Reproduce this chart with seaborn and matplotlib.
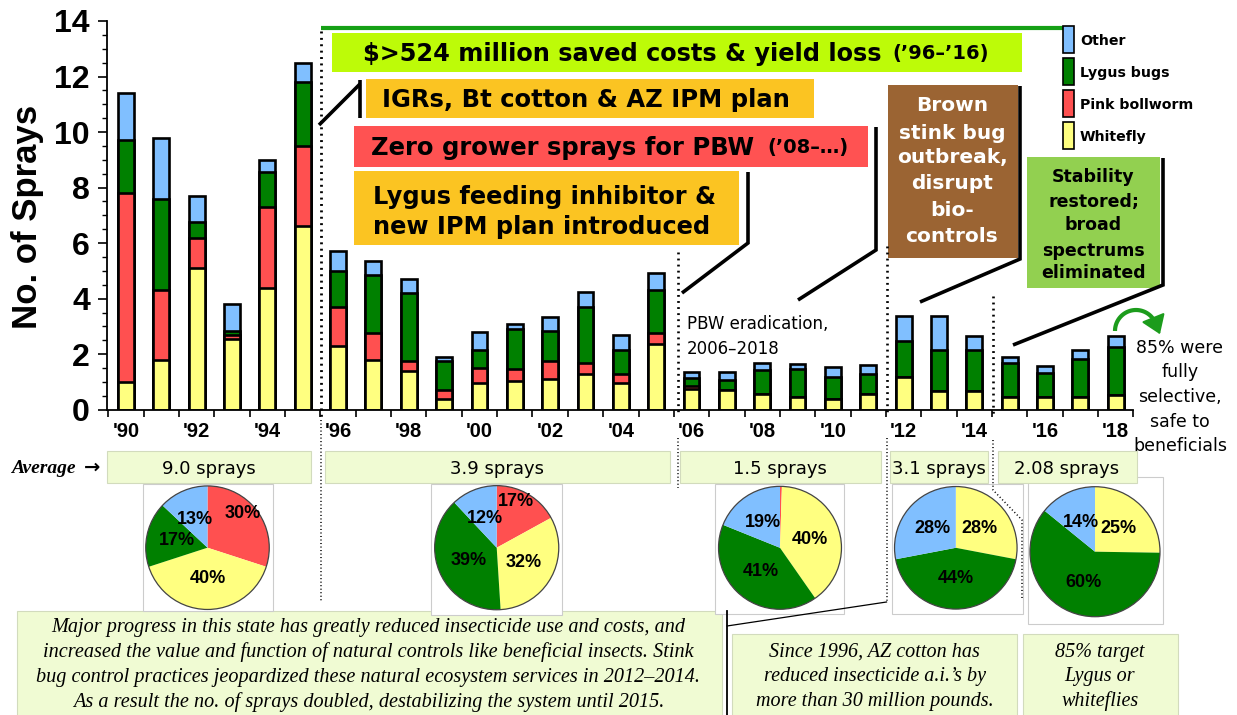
import matplotlib
matplotlib.use("Agg")
import matplotlib.pyplot as plt
from matplotlib import font_manager as fm
from matplotlib.patches import Rectangle, Circle
from matplotlib.ticker import MultipleLocator
import seaborn as sns
import numpy as np
import pandas as pd

# ---------------- data ----------------
years = list(range(1990, 2019))
whitefly = [1.0, 1.8, 5.1, 2.55, 4.4, 6.6, 2.3, 1.8, 1.4, 0.4, 0.95, 1.05, 1.1, 1.3, 0.95, 2.35,
            0.75, 0.7, 0.57, 0.47, 0.4, 0.55, 1.17, 0.66, 0.66, 0.44, 0.44, 0.47, 0.53]
pink_bollworm = [6.8, 2.5, 1.1, 0.15, 2.9, 2.9, 1.4, 0.95, 0.35, 0.3, 0.55, 0.4, 0.65, 0.4, 0.35, 0.4,
                 0.1, 0.02, 0, 0, 0, 0, 0, 0, 0, 0, 0, 0, 0]
lygus_bugs = [1.9, 3.3, 0.55, 0.15, 1.25, 2.3, 1.3, 2.1, 2.45, 1.05, 0.65, 1.45, 1.1, 2.0, 0.85, 1.55,
              0.3, 0.35, 0.85, 1.0, 0.78, 0.72, 1.3, 1.5, 1.5, 1.25, 0.87, 1.36, 1.72]
other = [1.7, 2.2, 0.95, 0.95, 0.45, 0.7, 0.7, 0.5, 0.5, 0.15, 0.65, 0.2, 0.5, 0.55, 0.55, 0.63,
         0.2, 0.3, 0.25, 0.18, 0.35, 0.35, 0.9, 1.23, 0.51, 0.22, 0.25, 0.33, 0.39]
series_names = ["Other", "Lygus bugs", "Pink bollworm", "Whitefly"]
year_labels = ["'" + str(y)[2:] if y % 2 == 0 else "" for y in years]

period_avg = ["9.0 sprays", "3.9 sprays", "1.5 sprays", "3.1 sprays", "2.08 sprays"]
pie_pink = [30, 17, 0.5, 0, 0]
pie_whitefly = [40, 32, 40, 28, 25]
pie_lygus = [17, 39, 41, 44, 60]
pie_other = [13, 12, 19, 28, 14]

C_OTHER = "#80bfff"
C_LYGUS = "#008000"
C_PINK = "#ff5050"
C_WF = "#ffff80"

# ---------------- fonts ----------------
avail = {f.name for f in fm.fontManager.ttflist}
SANS = "DejaVu Sans"
ARIAL = "Liberation Sans" if "Liberation Sans" in avail else "DejaVu Sans"
SERIF = "Liberation Serif" if "Liberation Serif" in avail else "DejaVu Serif"
NARROW = "Liberation Sans Narrow" if "Liberation Sans Narrow" in avail else None

W, H = 1237, 715
fig = plt.figure(figsize=(W / 100, H / 100), dpi=100, facecolor="white")

bg = fig.add_axes([0, 0, 1, 1], zorder=0)
bg.set_xlim(0, W); bg.set_ylim(H, 0); bg.axis("off")

ax = fig.add_axes([107.3 / W, 1 - 409.7 / H, 1026 / W, 388.7 / H], zorder=1)
ax.patch.set_alpha(0)

fg = fig.add_axes([0, 0, 1, 1], zorder=5)
fg.set_xlim(0, W); fg.set_ylim(H, 0); fg.axis("off")


def box(a, x0, y0, x1, y1, fc, ec="none", lw=0.0, z=1):
    a.add_patch(Rectangle((x0, y0), x1 - x0, y1 - y0, facecolor=fc, edgecolor=ec,
                          linewidth=lw, zorder=z))


def txt(a, x, yc, s, size, family, weight="normal", style="normal", ha="left",
        color="black", capfrac=0.36, **kw):
    em = size * 100 / 72
    a.text(x, yc + capfrac * em, s, fontsize=size, family=family, fontweight=weight,
           fontstyle=style, ha=ha, va="baseline", color=color, zorder=6, **kw)


# ---------------- stacked bars (seaborn) ----------------
df = pd.DataFrame({"year": [str(y) for y in years], "Whitefly": whitefly,
                   "Pink bollworm": pink_bollworm, "Lygus bugs": lygus_bugs, "Other": other})
df["c_wf"] = df["Whitefly"]
df["c_pb"] = df["c_wf"] + df["Pink bollworm"]
df["c_lg"] = df["c_pb"] + df["Lygus bugs"]
df["c_all"] = df["c_lg"] + df["Other"]
order = [str(y) for y in years]
for col, colr in [("c_all", C_OTHER), ("c_lg", C_LYGUS), ("c_pb", C_PINK), ("c_wf", C_WF)]:
    sns.barplot(data=df, x="year", y=col, order=order, color=colr, saturation=1, width=0.45,
                edgecolor="black", linewidth=1.9, errorbar=None, ax=ax)

ax.set_xlim(-0.53, 28.49)
ax.set_ylim(0, 14)
ax.set_xlabel(""); ax.set_ylabel("")
for s in ["top", "right"]:
    ax.spines[s].set_visible(False)
for s in ["left", "bottom"]:
    ax.spines[s].set_linewidth(1.3)
ax.set_xticks(range(len(years)))
ax.set_xticklabels(year_labels, fontsize=14.5, fontweight="bold", family=ARIAL)
ax.set_xticks(np.arange(-0.5, 28.6, 1), minor=True)
ax.tick_params(axis="x", which="major", length=0, pad=8.5)
ax.tick_params(axis="x", which="minor", length=5, width=1.2, direction="out")
ax.set_yticks(range(0, 15, 2))
ax.set_yticklabels([str(v) for v in range(0, 15, 2)], fontsize=23, fontweight="bold", family=ARIAL)
ax.yaxis.set_minor_locator(MultipleLocator(0.5))
ax.tick_params(axis="y", which="major", length=6.5, width=1.2, pad=6)
ax.tick_params(axis="y", which="minor", length=3.4, width=1.0)

fg.text(28, 217, "No. of Sprays", rotation=90, ha="center", va="center", fontsize=25,
        fontweight="bold", family=ARIAL)

# ---------------- background boxes (bottom area) ----------------
LIGHT = "#f0fbd3"
LEDGE = "#d2dbbd"
box(bg, 16.5, 610.7, 722, 716, LIGHT, LEDGE, 0.8)
box(bg, 732, 634, 1016.5, 716, LIGHT, LEDGE, 0.8)
box(bg, 1023, 634, 1177.5, 716, LIGHT, LEDGE, 0.8)
for x0, y0, x1, y1 in [(142.7, 484, 273.3, 611), (431, 484, 561.7, 614.7), (715, 484, 844, 614),
                       (892.3, 484, 1022.7, 614), (1027.7, 476.7, 1163.3, 624)]:
    box(bg, x0, y0, x1, y1, "white", "#cccccc", 0.8, z=2)
avg_boxes = [(107, 311), (325, 670), (680, 881), (889.5, 988), (998, 1137)]
avg_cx = [209, 497, 780, 939, 1066.5]
for (x0, x1), cx, lab in zip(avg_boxes, avg_cx, period_avg):
    box(bg, x0, 451, x1, 483, LIGHT, LEDGE, 0.8, z=3)
    txt(bg, cx, 467, lab, 13, SANS, ha="center")

txt(fg, 11, 466, "Average", 14, SERIF, weight="bold", style="italic")
txt(fg, 84, 466, "\u2192", 14, SANS, weight="bold")

# bottom notes
linesA = ["Major progress in this state has greatly reduced insecticide use and costs, and",
          "increased the value and function of natural controls like beneficial insects. Stink",
          "bug control practices jeopardized these natural ecosystem services in 2012\u20132014.",
          "As a result the no. of sprays doubled, destabilizing the system until 2015."]
for i, l in enumerate(linesA):
    fg.text(368.5, 632 + 25 * i, l, fontsize=14.6, family=SERIF, fontstyle="italic",
            ha="center", va="baseline")
linesB = ["Since 1996, AZ cotton has", "reduced insecticide a.i.\u2019s by",
          "more than 30 million pounds."]
for i, l in enumerate(linesB):
    fg.text(874.5, 657 + 24.5 * i, l, fontsize=14.5, family=SERIF, fontstyle="italic",
            ha="center", va="baseline")
linesC = ["85% target", "Lygus or", "whiteflies"]
for i, l in enumerate(linesC):
    fg.text(1100, 657 + 24.5 * i, l, fontsize=14.5, family=SERIF, fontstyle="italic",
            ha="center", va="baseline")

# ---------------- pies ----------------
pie_geo = [(207.5, 547.7, 63), (496.7, 547.7, 63.3), (780, 547.8, 62.7), (955.8, 547.8, 62.5),
           (1095, 551.7, 66.3)]
for i, (cx, cy, r) in enumerate(pie_geo):
    pax = fig.add_axes([(cx - r) / W, 1 - (cy + r) / H, 2 * r / W, 2 * r / H], zorder=3)
    vals = [pie_pink[i], pie_whitefly[i], pie_lygus[i], pie_other[i]]
    cols = [C_PINK, C_WF, C_LYGUS, C_OTHER]
    keep = [(v, c) for v, c in zip(vals, cols) if v > 0]
    wedges, _ = pax.pie([v for v, _ in keep], colors=[c for _, c in keep], startangle=90,
                        counterclock=False, radius=1, wedgeprops=dict(linewidth=0))
    pax.set_xlim(-1.02, 1.02); pax.set_ylim(-1.02, 1.02)
    pax.add_patch(Circle((0, 0), 1, fill=False, edgecolor="#444444", lw=0.9))
    for w, (v, c) in zip(wedges, keep):
        if v < 1:
            continue
        mid = (w.theta1 + w.theta2) / 2
        if c == C_PINK:
            mid += 8
        th = np.deg2rad(mid)
        d = 0.8 if c == C_PINK else 0.5
        pax.text(d * np.cos(th), d * np.sin(th), f"{v:.0f}%", ha="center", va="center",
                 fontsize=13, fontweight="bold", family=ARIAL)

# ---------------- annotations (top) ----------------
fg.plot([321, 1063], [28, 28], color="#16a016", lw=3, solid_capstyle="butt")
DOT = (0, (0.7, 1.6))
fg.plot([321, 321], [31, 420], color="black", lw=2.0, ls=DOT)
fg.plot([321, 321], [420, 602], color="black", lw=1.1, ls=DOT)
fg.plot([678, 678], [252, 414], color="black", lw=1.9, ls=DOT)
fg.plot([678, 678], [438, 488], color="black", lw=1.1, ls=DOT)
fg.plot([886.5, 886.5], [246, 414], color="black", lw=1.9, ls=DOT)
fg.plot([886.5, 886.5], [438, 602], color="black", lw=1.1, ls=DOT)
fg.plot([993, 993], [296, 414], color="black", lw=1.9, ls=DOT)
fg.plot([993, 993, 1022, 1022], [440, 490, 520, 598], color="black", lw=1.1, ls=DOT)
fg.plot([886.5, 727], [602, 626], color="black", lw=0.9)
fg.plot([727, 727], [611, 716], color="black", lw=1.3)

CL = dict(color="black", lw=2.6, solid_capstyle="butt", solid_joinstyle="miter")
fg.plot([319, 360], [125, 84], **CL)
fg.plot([360, 360], [80, 118], **CL)
fg.plot([798, 876, 876], [300, 250, 127], **CL)
fg.plot([682, 748, 748], [293, 243, 172], **CL)
fg.plot([920, 1020, 1020], [302, 259, 86], **CL)
fg.plot([1013, 1163, 1163], [345, 285, 158], **CL)

box(fg, 332, 33, 1022, 72, "#bdfb08")
txt(fg, 363, 52.5, "$>524 million saved costs & yield loss", 17.3, SANS, weight="bold")
txt(fg, 892, 52.5, "(\u201996\u2013\u201916)", 14, SANS, weight="bold")

box(fg, 366, 79, 814, 118, "#fbc422")
txt(fg, 382, 98.5, "IGRs, Bt cotton & AZ IPM plan", 17.5, SANS, weight="bold")

box(fg, 354, 126, 868, 167, "#ff5252")
txt(fg, 371, 146, "Zero grower sprays for PBW", 17.5, SANS, weight="bold")
txt(fg, 767, 146, "(\u201908\u2013\u2026)", 14, SANS, weight="bold")

box(fg, 354, 171, 739, 245, "#fbc422")
txt(fg, 373, 195, "Lygus feeding inhibitor &", 17.3, SANS, weight="bold")
txt(fg, 373, 225, "new IPM plan introduced", 17.3, SANS, weight="bold")

box(fg, 888, 85, 1018, 258, "#9b6433")
for yc, l in zip([103.3, 131.7, 156, 181.7, 208.3, 235],
                 ["Brown", "stink bug", "outbreak,", "disrupt", "bio-", "controls"]):
    txt(fg, 952, yc, l, 14.5, SANS, weight="bold", ha="center", color="white")

box(fg, 1027, 157, 1160, 288, "#92d050")
for yc, l in zip([176, 200.7, 224, 249.3, 271.7],
                 ["Stability", "restored;", "broad", "spectrums", "eliminated"]):
    txt(fg, 1093.5, yc, l, 12.5, SANS, weight="bold", ha="center")

# legend
leg_cols = [C_OTHER, C_LYGUS, C_PINK, C_WF]
for top, cc, name in zip([26, 58, 90, 122], leg_cols, series_names):
    box(fg, 1063, top, 1074, top + 27, cc, "black", 1.2, z=4)
    if NARROW:
        txt(fg, 1080, top + 14, name, 12, NARROW, weight="bold")
    else:
        txt(fg, 1080, top + 14, name, 10.2, SANS, weight="bold")

# other texts
txt(fg, 686.7, 322.7, "PBW eradication,", 12, SANS)
txt(fg, 686.7, 347.7, "2006\u20132018", 12, SANS)
for yc, l in zip([347, 371, 396, 421, 445],
                 ["85% were", "fully", "selective,", "safe to", "beneficials"]):
    txt(fg, 1180, yc, l, 12.5, SANS, ha="center")

# curved green arrow
GREEN_ARROW = "#1c9c1c"
acx, acy, ar = 1136, 331, 21
th = np.deg2rad(np.linspace(180, 22, 60))
fg.plot(acx + ar * np.cos(th), acy - ar * np.sin(th), color=GREEN_ARROW, lw=3,
        solid_capstyle="butt", zorder=6)
ex, ey = acx + ar * np.cos(th[-1]), acy - ar * np.sin(th[-1])
tx, ty = ex + 12 * np.sin(th[-1]), ey + 12 * np.cos(th[-1])
fg.annotate("", xy=(tx, ty), xytext=(ex, ey),
            arrowprops=dict(arrowstyle="-|>,head_length=0.8,head_width=0.55", color=GREEN_ARROW,
                            lw=1.5, mutation_scale=14, shrinkA=0, shrinkB=0), zorder=6)

fig.savefig("out.png", dpi=100, facecolor="white")
